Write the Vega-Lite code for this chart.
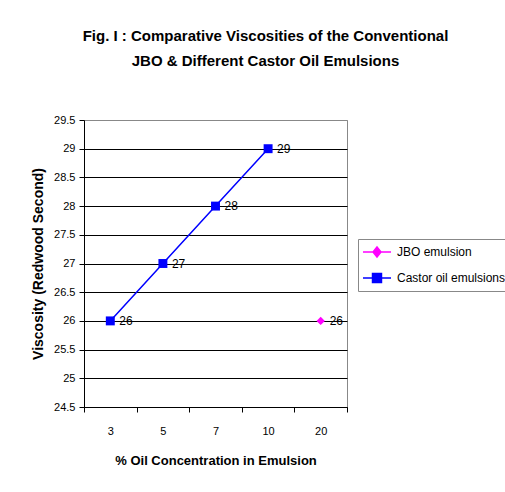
{
  "$schema": "https://vega.github.io/schema/vega-lite/v6.json",
  "autosize": "none",
  "width": 263,
  "height": 287,
  "padding": {"left": 84, "top": 120, "right": 158, "bottom": 85},
  "background": "white",
  "config": {
    "font": "Liberation Sans",
    "view": {"stroke": "#888888", "strokeWidth": 1},
    "axis": {"labelFont": "Liberation Sans", "titleFont": "Liberation Sans", "labelColor": "black", "titleColor": "black", "domainColor": "black", "tickColor": "black"},
    "legend": {"labelFont": "Liberation Sans", "labelFontSize": 12, "labelColor": "black"}
  },
  "title": {
    "text": ["Fig. I : Comparative Viscosities of the Conventional", "JBO & Different Castor Oil Emulsions"],
    "font": "Liberation Sans",
    "fontSize": 15,
    "fontWeight": "bold",
    "lineHeight": 25,
    "anchor": "middle",
    "dx": 50,
    "offset": 45,
    "color": "black"
  },
  "data": {
    "values": [
      {"conc": "3", "visc": 26, "series": "Castor oil emulsions"},
      {"conc": "5", "visc": 27, "series": "Castor oil emulsions"},
      {"conc": "7", "visc": 28, "series": "Castor oil emulsions"},
      {"conc": "10", "visc": 29, "series": "Castor oil emulsions"},
      {"conc": "20", "visc": 26, "series": "JBO emulsion"}
    ]
  },
  "encoding": {
    "x": {
      "field": "conc", "type": "ordinal", "sort": ["3", "5", "7", "10", "20"],
      "scale": {"domain": ["3", "5", "7", "10", "20"]},
      "axis": {
        "title": "% Oil Concentration in Emulsion", "labelAngle": 0, "tickBand": "extent",
        "labelFontSize": 11, "labelPadding": 13, "tickSize": 5,
        "titleFontSize": 13, "titleFontWeight": "bold", "titlePadding": 18
      }
    },
    "y": {
      "field": "visc", "type": "quantitative",
      "scale": {"domain": [24.5, 29.5], "nice": false, "zero": false},
      "axis": {
        "title": "Viscosity (Redwood Second)",
        "values": [24.5, 25, 25.5, 26, 26.5, 27, 27.5, 28, 28.5, 29, 29.5],
        "format": "~g", "labelFontSize": 11, "labelPadding": 4, "tickSize": 5,
        "titleFontSize": 14, "titleFontWeight": "bold", "titlePadding": 8,
        "grid": true,
        "gridColor": {"condition": {"test": "datum.value === 29.5", "value": "#888888"}, "value": "black"},
        "gridWidth": 1, "gridOpacity": 1
      }
    }
  },
  "layer": [
    {
      "transform": [{"filter": "datum.series === 'Castor oil emulsions'"}],
      "mark": {"type": "line", "strokeWidth": 1.5, "color": "#0000ff"}
    },
    {
      "transform": [{"filter": "datum.series === 'JBO emulsion'"}],
      "mark": {"type": "point", "filled": true, "opacity": 1, "shape": "diamond", "size": 70, "color": "#ff00ff"}
    },
    {
      "transform": [{"filter": "datum.series === 'Castor oil emulsions'"}],
      "mark": {"type": "point", "filled": true, "opacity": 1, "shape": "square", "size": 80, "color": "#0000ff"}
    },
    {
      "mark": {"type": "text", "align": "left", "dx": 9, "fontSize": 12, "font": "Liberation Sans", "color": "black"},
      "encoding": {"text": {"field": "visc", "type": "quantitative"}}
    },
    {
      "mark": {"type": "point", "filled": true, "opacity": 0, "size": 0, "strokeWidth": 1.5},
      "encoding": {
        "fill": {
          "field": "series", "type": "nominal",
          "scale": {"domain": ["JBO emulsion", "Castor oil emulsions"], "range": ["#ff00ff", "#0000ff"]},
          "legend": {
            "title": null, "orient": "none", "legendX": 274, "legendY": 119,
            "strokeColor": "#888888", "padding": 5, "symbolSize": 196, "rowPadding": 10,
            "labelOffset": 12, "symbolOffset": 6, "symbolStrokeWidth": 1.5, "symbolOpacity": 1
          }
        },
        "stroke": {
          "field": "series", "type": "nominal",
          "scale": {"domain": ["JBO emulsion", "Castor oil emulsions"], "range": ["#ff00ff", "#0000ff"]},
          "legend": {
            "title": null, "orient": "none", "legendX": 274, "legendY": 119,
            "strokeColor": "#888888", "padding": 5, "symbolSize": 196, "rowPadding": 10,
            "labelOffset": 12, "symbolOffset": 6, "symbolStrokeWidth": 1.5, "symbolOpacity": 1
          }
        },
        "shape": {
          "field": "series", "type": "nominal",
          "scale": {"domain": ["JBO emulsion", "Castor oil emulsions"], "range": ["M-2,0H2M0,-0.71L0.57,0L0,0.71L-0.57,0Z", "M-2,0H2M-0.64,-0.64H0.64V0.64H-0.64Z"]},
          "legend": {
            "title": null, "orient": "none", "legendX": 274, "legendY": 119,
            "strokeColor": "#888888", "padding": 5, "symbolSize": 196, "rowPadding": 10,
            "labelOffset": 12, "symbolOffset": 6, "symbolStrokeWidth": 1.5, "symbolOpacity": 1
          }
        }
      }
    }
  ]
}
